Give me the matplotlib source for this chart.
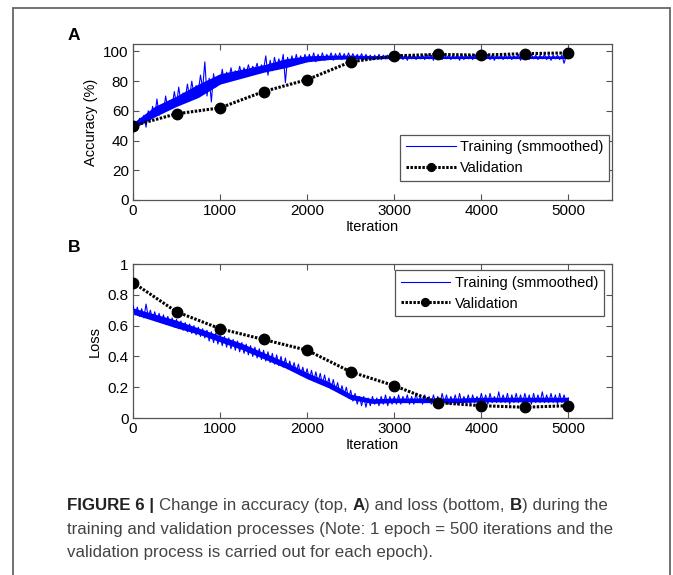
import numpy as np
import matplotlib
matplotlib.use("Agg")
import matplotlib.pyplot as plt
from matplotlib.patches import Rectangle

plt.rcParams['font.family'] = ['Liberation Sans', 'DejaVu Sans']

# ---------------- data ----------------
train_iter = np.arange(0, 5001, 25)
acc_train = [
    50, 53, 47, 55, 51, 57, 49, 60, 54, 63, 56, 68, 57, 64, 59, 70, 61, 67, 63, 73,
    64, 76, 66, 72, 68, 78, 69, 80, 71, 77, 73, 84, 75, 93, 70, 82, 66, 85, 76, 83,
    78, 88, 79, 86, 81, 89, 82, 87, 83, 90, 84, 89, 85, 91, 86, 90, 87, 92, 86, 91,
    88, 97, 84, 94, 87, 96, 89, 95, 90, 98, 79, 96, 90, 97, 91, 98, 92, 97, 93, 98,
    93, 98, 94, 99, 93, 98, 94, 99, 94, 98, 95, 99, 94, 98.5, 95, 99, 94.5, 98.5, 95, 99,
    95, 98.5, 94.5, 98, 95, 98.5, 94.5, 98, 95, 97.5, 94.5, 97.5, 95, 98, 94.5, 97.5, 95, 97.5, 94.5, 97.5,
    94.5, 97.5, 95, 98, 94.5, 97.5, 94, 97.5, 95, 98, 94.5, 97, 95, 97.5, 94.5, 98, 95, 97.5, 94, 97.5,
    95, 97.5, 94.5, 98, 95, 97.5, 94.5, 97, 95, 97.5, 94, 98, 94.5, 97.5, 95, 97.5, 94.5, 98, 95, 97.5,
    94.5, 97.5, 95, 98, 94.5, 97.5, 94, 97.5, 95, 97.5, 94.5, 98, 95, 97.5, 94.5, 97, 95, 98, 94, 97.5,
    95, 97.5, 94.5, 98, 95, 97.5, 94.5, 97.5, 95, 98, 94.5, 97.5, 94, 97.5, 95, 97.5, 94.5, 97.5, 92, 97,
    96]
loss_train = [
    0.73, 0.67, 0.72, 0.66, 0.71, 0.65, 0.74, 0.66, 0.70, 0.64, 0.69, 0.63, 0.68, 0.62, 0.67, 0.61, 0.66, 0.60, 0.65, 0.59,
    0.64, 0.58, 0.63, 0.57, 0.62, 0.56, 0.61, 0.55, 0.60, 0.54, 0.59, 0.53, 0.58, 0.52, 0.57, 0.50, 0.56, 0.49, 0.55, 0.48,
    0.54, 0.47, 0.53, 0.46, 0.52, 0.45, 0.51, 0.44, 0.50, 0.43, 0.49, 0.42, 0.48, 0.41, 0.47, 0.40, 0.46, 0.39, 0.45, 0.38,
    0.44, 0.37, 0.43, 0.36, 0.42, 0.35, 0.41, 0.34, 0.40, 0.33, 0.39, 0.32, 0.37, 0.31, 0.36, 0.30, 0.35, 0.28, 0.33, 0.27,
    0.32, 0.25, 0.31, 0.24, 0.30, 0.23, 0.29, 0.22, 0.28, 0.21, 0.26, 0.19, 0.25, 0.18, 0.23, 0.16, 0.21, 0.15, 0.20, 0.13,
    0.18, 0.11, 0.16, 0.09, 0.14, 0.08, 0.14, 0.07, 0.13, 0.08, 0.14, 0.09, 0.13, 0.08, 0.14, 0.09, 0.15, 0.08, 0.14, 0.09,
    0.14, 0.09, 0.15, 0.09, 0.14, 0.10, 0.15, 0.09, 0.14, 0.09, 0.16, 0.10, 0.14, 0.09, 0.15, 0.10, 0.14, 0.09, 0.15, 0.10,
    0.14, 0.09, 0.16, 0.10, 0.15, 0.09, 0.14, 0.10, 0.15, 0.09, 0.16, 0.10, 0.14, 0.10, 0.15, 0.09, 0.15, 0.10, 0.14, 0.10,
    0.16, 0.10, 0.15, 0.09, 0.16, 0.10, 0.14, 0.10, 0.17, 0.10, 0.15, 0.10, 0.16, 0.09, 0.15, 0.10, 0.16, 0.10, 0.15, 0.10,
    0.16, 0.10, 0.15, 0.09, 0.16, 0.10, 0.15, 0.10, 0.17, 0.10, 0.15, 0.10, 0.16, 0.10, 0.15, 0.09, 0.16, 0.10, 0.15, 0.10,
    0.13]

# dense core of the noisy training curve, every 250 iterations
band_iter = np.arange(0, 5001, 250)
acc_lo = [48, 56, 63, 69, 78, 82, 86, 89, 93, 94.5, 95, 95, 95.2, 95.2, 95.2,
          95.2, 95.2, 95.2, 95.2, 95.2, 95.2]
acc_hi = [52, 63, 70, 78, 85, 88, 91, 95, 97, 97.5, 97.5, 97.2, 97, 97, 97,
          97, 97, 97, 97, 97, 97]
loss_lo = [0.675, 0.63, 0.585, 0.545, 0.495, 0.445, 0.385, 0.325, 0.255, 0.195, 0.12,
           0.095, 0.10, 0.10, 0.10, 0.10, 0.105, 0.105, 0.105, 0.105, 0.105]
loss_hi = [0.715, 0.675, 0.635, 0.585, 0.535, 0.485, 0.425, 0.365, 0.295, 0.235, 0.155,
           0.125, 0.13, 0.13, 0.13, 0.13, 0.135, 0.135, 0.135, 0.135, 0.135]

val_iter = [0, 500, 1000, 1500, 2000, 2500, 3000, 3500, 4000, 4500, 5000]
acc_val = [50, 58, 62, 73, 81, 93, 97, 98, 97.5, 98.5, 99]
loss_val = [0.88, 0.69, 0.58, 0.51, 0.44, 0.30, 0.21, 0.10, 0.08, 0.07, 0.08]

xticks = [0, 1000, 2000, 3000, 4000, 5000]

# ---------------- figure ----------------
fig = plt.figure(figsize=(6.73, 5.75), dpi=100)
fig.patch.set_facecolor('white')

axA = fig.add_axes([0.1976, 0.6522, 0.7117, 0.2713])
axB = fig.add_axes([0.1976, 0.2730, 0.7117, 0.2678])


def draw_panel(ax, train, lo, hi, val, ylim, yticks, ylabel, legend_loc, anchor):
    ax.fill_between(band_iter, lo, hi, color='#0000ff', lw=0, zorder=2)
    ax.plot(train_iter, train, color='#0000ff', lw=0.8, zorder=3,
            label='Training (smmoothed)')
    ax.plot(val_iter, val, color='black', ls=(0, (0.8, 0.5)), lw=2.2,
            marker='o', ms=7.5, zorder=4, label='Validation')
    ax.set_xlim(0, 5500)
    ax.set_ylim(*ylim)
    ax.set_xticks(xticks)
    ax.set_yticks(yticks)
    ax.tick_params(direction='in', top=True, right=True, length=4.5,
                   width=0.8, color='#555555', labelsize=11, pad=3)
    for sp in ax.spines.values():
        sp.set_color('#555555')
        sp.set_linewidth(0.9)
    ax.set_xlabel('Iteration', fontsize=10.5, labelpad=1)
    ax.set_ylabel(ylabel, fontsize=10.5, labelpad=4)
    leg = ax.legend(loc=legend_loc, bbox_to_anchor=anchor, fontsize=10.5,
                    frameon=True, fancybox=False, framealpha=1,
                    edgecolor='#555555', handlelength=3.4, borderpad=0.4,
                    labelspacing=0.45, handletextpad=0.3, borderaxespad=0,
                    markerscale=0.75)
    leg.get_frame().set_linewidth(0.9)
    return leg


draw_panel(axA, acc_train, acc_lo, acc_hi, acc_val, (0, 105),
           [0, 20, 40, 60, 80, 100], 'Accuracy (%)', 'lower right',
           (0.994, 0.123))
draw_panel(axB, loss_train, loss_lo, loss_hi, loss_val, (0, 1),
           [0, 0.2, 0.4, 0.6, 0.8, 1], 'Loss', 'upper right',
           (0.983, 0.96))
axB.set_yticklabels(['0', '0.2', '0.4', '0.6', '0.8', '1'])

fig.text(0.11, 0.939, 'A', fontsize=12.5, fontweight='bold', ha='center', va='center')
fig.text(0.11, 0.569, 'B', fontsize=12.5, fontweight='bold', ha='center', va='center')

# frame round the figure
fig.add_artist(Rectangle((13 / 673, -0.02), (670 - 13) / 673, 1.006,
                         transform=fig.transFigure, fill=False,
                         edgecolor='#666666', lw=1.3))

# caption, mixed bold / regular pieces laid out one after the other
caption = [
    [('FIGURE 6 | ', 'bold', '#222222'), ('Change in accuracy (top, ', 'normal', '#444444'),
     ('A', 'bold', '#222222'), (') and loss (bottom, ', 'normal', '#444444'),
     ('B', 'bold', '#222222'), (') during the', 'normal', '#444444')],
    [('training and validation processes (Note: 1 epoch = 500 iterations and the',
      'normal', '#444444')],
    [('validation process is carried out for each epoch).', 'normal', '#444444')],
]
line_y = [1 - 510 / 575, 1 - 534 / 575, 1 - 557 / 575]
renderer = fig.canvas.get_renderer()
for parts, y in zip(caption, line_y):
    x = 67 / 673
    for txt, weight, col in parts:
        t = fig.text(x, y, txt, fontsize=12.2, fontweight=weight, color=col,
                     va='baseline', ha='left')
        bb = t.get_window_extent(renderer=renderer)
        x = fig.transFigure.inverted().transform((bb.x1, bb.y0))[0]

fig.savefig('out.png', dpi=100)
